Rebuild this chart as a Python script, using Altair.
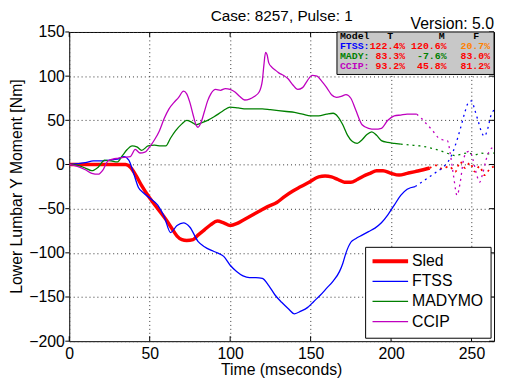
import altair as alt
import pandas as pd

# ---------------- data ----------------
x_ticks = [0, 50, 100, 150, 200, 250]
y_ticks = [-200, -150, -100, -50, 0, 50, 100, 150]

series_names = ["Sled", "FTSS", "MADYMO", "CCIP"]

sled_t = [0, 10, 20, 30, 35, 38, 42, 45, 50, 55, 60, 64, 67, 70, 73, 77, 80, 84, 88, 92,
          96, 100, 104, 108, 113, 118, 123, 129, 134, 139, 144, 149, 155, 159, 163, 167,
          171, 175, 179, 183, 187, 191, 195, 200, 205, 210, 215, 220, 224]
sled_y = [0, 0, 0, 0, 0, -3, -14, -24, -38, -50, -62, -73, -81, -85, -86, -85, -80, -74, -68, -64,
          -66, -69, -67, -63, -58, -53, -48, -43, -36, -30, -25, -20, -14, -13, -14, -17,
          -20, -20, -17, -13, -10, -7, -7, -10, -12, -10, -8, -6, -4]
sled_tail_t = [224, 228, 232, 236, 240, 243, 246, 249, 252, 255, 258, 261, 264]
sled_tail_y = [-4, -1, -5, -2, -8, 3, -4, 2, -8, -2, -12, -6, -2]

ftss_t = [0, 5, 10, 15, 20, 25, 30, 34, 37, 40, 43, 46, 50, 55, 59, 63, 67, 71, 75, 80,
          84, 88, 92, 96, 100, 104, 108, 112, 116, 120, 124, 128, 132, 136, 140, 144, 148,
          152, 156, 160, 164, 168, 170, 172, 175, 178, 182, 186, 190, 194, 198, 202, 206, 210, 215]
ftss_y = [0, 1, 2, 4, 4, 5, 6, 9, 5, -10, -26, -32, -38, -46, -59, -77, -69, -66, -71, -87,
          -93, -97, -100, -104, -114, -121, -126, -128, -128, -129, -137, -148, -156, -163, -169, -166, -162,
          -155, -148, -140, -132, -121, -112, -100, -88, -84, -80, -76, -72, -66, -57, -46, -35, -28, -25]
ftss_tail_t = [215, 219, 223, 227, 231, 234, 237, 240, 243, 246, 248, 250, 252, 254, 256, 258, 260, 262, 264]
ftss_tail_y = [-25, -20, -15, -10, -5, 0, 8, 22, 40, 60, 70, 72, 62, 50, 38, 32, 40, 55, 62]

madymo_t = [0, 5, 10, 14, 18, 22, 26, 30, 33, 36, 39, 42, 45, 49, 53, 57, 60, 63, 66, 70,
            73, 76, 79, 82, 86, 90, 95, 100, 105, 110, 115, 120, 125, 130, 135, 140, 145, 150,
            155, 160, 164, 167, 170, 173, 176, 179, 182, 185, 188, 191, 194, 198, 202, 206]
madymo_y = [0, -1, -4, -7, -3, 5, 4, 3, 10, 17, 21, 20, 16, 21, 22, 21, 21, 30, 38, 46,
            50, 48, 45, 47, 50, 54, 60, 65, 64, 63, 63, 63, 62, 61, 60, 59, 57, 55,
            55, 57, 58, 54, 45, 33, 26, 24, 28, 34, 37, 33, 27, 25, 24, 23]
madymo_tail_t = [206, 212, 218, 224, 230, 236, 240, 244, 248, 252, 256, 260, 264]
madymo_tail_y = [23, 22, 21, 19, 16, 12, 10, 12, 13, 11, 13, 12, 13]

ccip_t = [0, 5, 10, 14, 18, 21, 24, 27, 30, 34, 38, 41, 44, 47, 50, 53, 56, 59, 62, 65,
          68, 71, 73, 75, 77, 79, 80, 82, 84, 86, 88, 91, 94, 97, 100, 103, 106, 109, 112, 115,
          118, 120, 121, 122, 123, 124, 126, 128, 130, 133, 136, 139, 142, 145, 148, 151, 154, 157,
          160, 163, 166, 169, 172, 175, 178, 182, 186, 190, 194, 198, 202, 206, 210, 214, 216]
ccip_y = [0, -2, -6, -10, -11, -6, 4, 6, 7, 8, 9, 17, 13, 14, 20, 28, 38, 52, 63, 70,
          76, 83, 80, 70, 56, 44, 42, 48, 60, 72, 80, 85, 84, 86, 85, 82, 77, 73, 74, 77,
          82, 95, 113, 127, 124, 115, 110, 107, 104, 101, 97, 90, 85, 87, 95, 101, 100, 94,
          87, 79, 76, 77, 79, 75, 62, 45, 41, 40, 41, 50, 55, 56, 57, 57, 57]
ccip_tail_t = [216, 219, 222, 226, 229, 232, 235, 237, 239, 241, 243, 245, 247, 249, 251, 253, 255, 257, 259, 261, 264]
ccip_tail_y = [57, 52, 46, 38, 31, 28, 27, 10, -15, -35, -20, 5, 14, 15, 5, -10, -20, -10, 5, 15, 20]

# summary table
table_header = ["Model", "T", "M", "F"]
table_models = ["FTSS:", "MADY:", "CCIP:"]
table_T = ["122.4%", "83.3%", "93.2%"]
table_M = ["120.6%", "-7.6%", "45.8%"]
table_F = ["20.7%", "83.0%", "81.2%"]

title_text = "Case: 8257, Pulse: 1"
version_text = "Version: 5.0"
x_title = "Time (mseconds)"
y_title = "Lower Lumbar Y Moment [Nm]"

# ---------------- styling ----------------
W, H = 430, 313
FONT = "Liberation Sans"
MONO = "Liberation Mono"
COLORS = {"Sled": "#ff0000", "FTSS": "#0000ff", "MADYMO": "#008000", "CCIP": "#bf00bf"}
WIDTHS = {"Sled": 3.5, "FTSS": 1.3, "MADYMO": 1.3, "CCIP": 1.3}
table_model_colors = [COLORS["FTSS"], COLORS["MADYMO"], COLORS["CCIP"]]
table_T_colors = ["#ff0000", "#ff0000", "#ff0000"]
table_M_colors = ["#ff0000", "#008000", "#ff0000"]
table_F_colors = ["#ff8000", "#ff0000", "#ff0000"]

xs = alt.Scale(domain=[0, 264], nice=False, zero=False)
ys = alt.Scale(domain=[-200, 150], nice=False, zero=False)

common_axis = dict(grid=True, gridDash=[1, 3], gridColor="#333333", gridWidth=1,
                   ticks=False, tickSize=0, domain=False, title=None,
                   labelFont=FONT, labelFontSize=16, labelColor="black",
                   labelFlush=False, labelOverlap=False)
x_axis = alt.Axis(values=x_ticks, labelPadding=5, **common_axis)
y_axis = alt.Axis(values=y_ticks, labelPadding=5, **common_axis)

X = alt.X("t:Q", scale=xs, axis=x_axis)
Y = alt.Y("y:Q", scale=ys, axis=y_axis)

one = alt.Data(values=[{}])


def line_layer(t, y, name, dotted=False):
    df = pd.DataFrame({"t": t, "y": y})
    kw = dict(color=COLORS[name], interpolate="monotone", clip=True)
    if dotted:
        kw["strokeDash"] = [2, 4]
        kw["strokeWidth"] = 1.8 if name == "Sled" else 1.3
    else:
        kw["strokeWidth"] = WIDTHS[name]
    return alt.Chart(df).mark_line(**kw).encode(x=X, y=Y)


layers = []
curves = {
    "Sled": (sled_t, sled_y, sled_tail_t, sled_tail_y),
    "FTSS": (ftss_t, ftss_y, ftss_tail_t, ftss_tail_y),
    "MADYMO": (madymo_t, madymo_y, madymo_tail_t, madymo_tail_y),
    "CCIP": (ccip_t, ccip_y, ccip_tail_t, ccip_tail_y),
}
for name in series_names:
    t, y, tt, ty = curves[name]
    layers.append(line_layer(t, y, name))
    layers.append(line_layer(tt, ty, name, dotted=True))

# tick marks: inward on bottom/top/right, outward on the left (as in the reference)
xt = alt.Chart(pd.DataFrame({"t": x_ticks}))
yt = alt.Chart(pd.DataFrame({"y": y_ticks}))
layers += [
    xt.mark_rule(color="black").encode(x=X, y=alt.value(H), y2=alt.value(H - 5)),
    xt.mark_rule(color="black").encode(x=X, y=alt.value(0), y2=alt.value(5)),
    yt.mark_rule(color="black").encode(y=Y, x=alt.value(-4), x2=alt.value(0)),
    yt.mark_rule(color="black").encode(y=Y, x=alt.value(W - 5), x2=alt.value(W)),
]


def text_layer(txt, x, y, color="black", font=FONT, size=16, align="left", weight="normal",
               baseline="alphabetic", angle=0):
    return alt.Chart(one).mark_text(text=txt, font=font, fontSize=size, align=align, angle=angle,
                                    baseline=baseline, color=color, fontWeight=weight).encode(
        x=alt.value(x), y=alt.value(y))


# titles
layers.append(text_layer(title_text, W / 2, -11, size=15.5, align="center"))
layers.append(text_layer(version_text, W, -3, align="right"))
layers.append(text_layer(x_title, W / 2, 347.5, align="center"))
layers.append(text_layer(y_title, -48, H / 2, align="center", angle=270))

# summary table box
layers.append(alt.Chart(one).mark_rect(fill="#c8c8c8", stroke="black", strokeWidth=1).encode(
    x=alt.value(271), x2=alt.value(430), y=alt.value(0), y2=alt.value(43)))
hx = [274, 325, 377, 412]
for i, h in enumerate(table_header):
    layers.append(text_layer(h, hx[i], 7, font=MONO, size=10, weight="bold",
                             align="left" if i == 0 else "center"))
for r in range(3):
    yy = 17 + 10 * r
    layers.append(text_layer(table_models[r], 274, yy, color=table_model_colors[r], font=MONO, size=10, weight="bold"))
    layers.append(text_layer(table_T[r], 340, yy, color=table_T_colors[r], font=MONO, size=10, weight="bold", align="right"))
    layers.append(text_layer(table_M[r], 382, yy, color=table_M_colors[r], font=MONO, size=10, weight="bold", align="right"))
    layers.append(text_layer(table_F[r], 426, yy, color=table_F_colors[r], font=MONO, size=10, weight="bold", align="right"))

# legend
layers.append(alt.Chart(one).mark_rect(fill="white", stroke="black", strokeWidth=1).encode(
    x=alt.value(300), x2=alt.value(427), y=alt.value(218), y2=alt.value(310)))
for i, name in enumerate(series_names):
    cy = 232 + 20.4 * i
    layers.append(alt.Chart(one).mark_rule(color=COLORS[name], strokeWidth=4 if name == "Sled" else 1.3).encode(
        x=alt.value(307), x2=alt.value(343), y=alt.value(cy)))
    layers.append(text_layer(name, 347, cy, baseline="middle"))

chart = alt.layer(*layers).properties(
    width=W, height=H,
    padding={"left": 62, "top": 22, "right": 3, "bottom": 36},
    autosize=alt.AutoSizeParams(type="none"),
).configure_view(stroke="black", strokeWidth=1)

chart.save("out.html", embed_options={"renderer": "svg", "actions": False})
